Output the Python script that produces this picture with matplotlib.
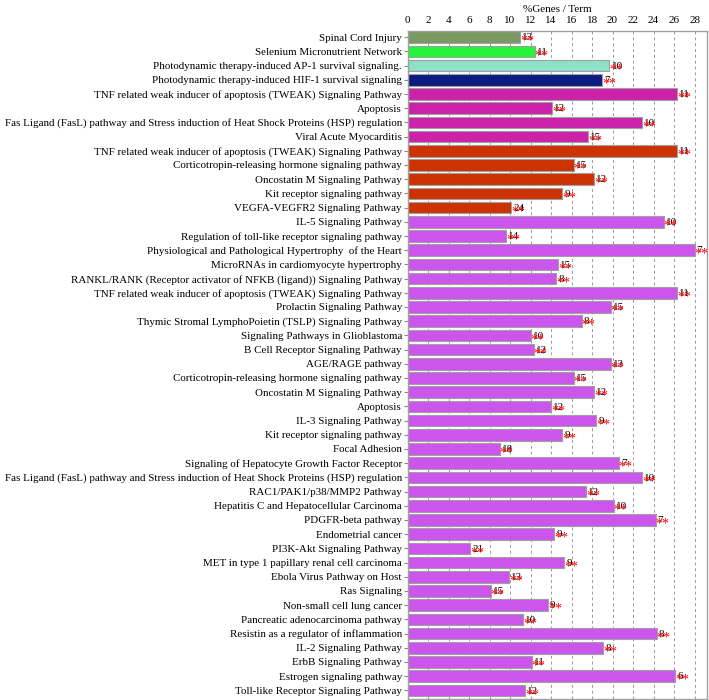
import matplotlib
matplotlib.use("Agg")
import matplotlib.pyplot as plt

plt.rcParams["font.family"] = ["Liberation Serif", "DejaVu Serif"]

terms = [
    "Spinal Cord Injury",
    "Selenium Micronutrient Network",
    "Photodynamic therapy-induced AP-1 survival signaling.",
    "Photodynamic therapy-induced HIF-1 survival signaling",
    "TNF related weak inducer of apoptosis (TWEAK) Signaling Pathway",
    "Apoptosis",
    "Fas Ligand (FasL) pathway and Stress induction of Heat Shock Proteins (HSP) regulation",
    "Viral Acute Myocarditis",
    "TNF related weak inducer of apoptosis (TWEAK) Signaling Pathway",
    "Corticotropin-releasing hormone signaling pathway",
    "Oncostatin M Signaling Pathway",
    "Kit receptor signaling pathway",
    "VEGFA-VEGFR2 Signaling Pathway",
    "IL-5 Signaling Pathway",
    "Regulation of toll-like receptor signaling pathway",
    "Physiological and Pathological Hypertrophy  of the Heart",
    "MicroRNAs in cardiomyocyte hypertrophy",
    "RANKL/RANK (Receptor activator of NFKB (ligand)) Signaling Pathway",
    "TNF related weak inducer of apoptosis (TWEAK) Signaling Pathway",
    "Prolactin Signaling Pathway",
    "Thymic Stromal LymphoPoietin (TSLP) Signaling Pathway",
    "Signaling Pathways in Glioblastoma",
    "B Cell Receptor Signaling Pathway",
    "AGE/RAGE pathway",
    "Corticotropin-releasing hormone signaling pathway",
    "Oncostatin M Signaling Pathway",
    "Apoptosis",
    "IL-3 Signaling Pathway",
    "Kit receptor signaling pathway",
    "Focal Adhesion",
    "Signaling of Hepatocyte Growth Factor Receptor",
    "Fas Ligand (FasL) pathway and Stress induction of Heat Shock Proteins (HSP) regulation",
    "RAC1/PAK1/p38/MMP2 Pathway",
    "Hepatitis C and Hepatocellular Carcinoma",
    "PDGFR-beta pathway",
    "Endometrial cancer",
    "PI3K-Akt Signaling Pathway",
    "MET in type 1 papillary renal cell carcinoma",
    "Ebola Virus Pathway on Host",
    "Ras Signaling",
    "Non-small cell lung cancer",
    "Pancreatic adenocarcinoma pathway",
    "Resistin as a regulator of inflammation",
    "IL-2 Signaling Pathway",
    "ErbB Signaling Pathway",
    "Estrogen signaling pathway",
    "Toll-like Receptor Signaling Pathway",
]

pct_genes = [
    11.0, 12.4, 19.7, 19.0, 26.3, 14.1, 22.9, 17.6, 26.3, 16.2,
    18.2, 15.1, 10.1, 25.0, 9.6, 28.0, 14.7, 14.5, 26.3, 19.8,
    17.0, 12.0, 12.3, 19.8, 16.2, 18.2, 14.0, 18.4, 15.1, 9.0,
    20.6, 22.9, 17.4, 20.1, 24.2, 14.3, 6.1, 15.3, 9.9, 8.1,
    13.7, 11.3, 24.3, 19.1, 12.1, 26.1, 11.5,
]

gene_counts = [
    13, 11, 10, 7, 11, 12, 10, 15, 11, 15,
    12, 9, 24, 10, 14, 7, 15, 8, 11, 15,
    8, 10, 12, 13, 15, 12, 12, 9, 9, 18,
    7, 10, 12, 10, 7, 9, 21, 9, 13, 15,
    9, 10, 8, 8, 11, 6, 12,
]

# group index of each term -> colour
groups = [0, 1, 2, 3] + [4] * 4 + [5] * 5 + [6] * 34
group_colors = ["#7B9A62", "#22F53A", "#8EE0C8", "#0D1A80",
                "#CC22AA", "#CC3300", "#CC55EE"]

fig = plt.figure(figsize=(7.09, 7.0), dpi=100)
ax = fig.add_axes([0.5748, 0.002, 0.4222, 0.954])

ypos = list(range(len(terms)))
colors = [group_colors[g] for g in groups]
ax.barh(ypos, pct_genes, height=0.82, color=colors, edgecolor="#A0A0A0",
        linewidth=0.8, zorder=2)

# gene count with red significance stars on top
for y, v, n in zip(ypos, pct_genes, gene_counts):
    ax.text(v + 0.2, y + 0.05, str(n), fontsize=8, color="black",
            va="center", ha="left", zorder=3)
    ax.text(v + 0.0, y + 0.3, "**", fontsize=10, color="red",
            va="center", ha="left", zorder=4)

ax.set_xlim(0, 29.2)
ax.set_ylim(len(terms) - 0.42, -0.45)
ax.set_xticks(range(0, 29, 2))
ax.set_yticks(ypos)
ax.set_yticklabels(terms, fontsize=7.9)
ax.xaxis.tick_top()
ax.xaxis.set_label_position("top")
ax.set_xlabel("%Genes / Term", fontsize=8, labelpad=3)
ax.tick_params(axis="x", labelsize=8, length=0, pad=4)
ax.tick_params(axis="y", length=3, pad=1, color="#888888")
ax.grid(axis="x", linestyle=(0, (3, 3)), color="#999999", linewidth=0.7, zorder=0)
for s in ax.spines.values():
    s.set_color("#A0A0A0")
    s.set_linewidth(1.0)

fig.savefig("out.png", dpi=100)
